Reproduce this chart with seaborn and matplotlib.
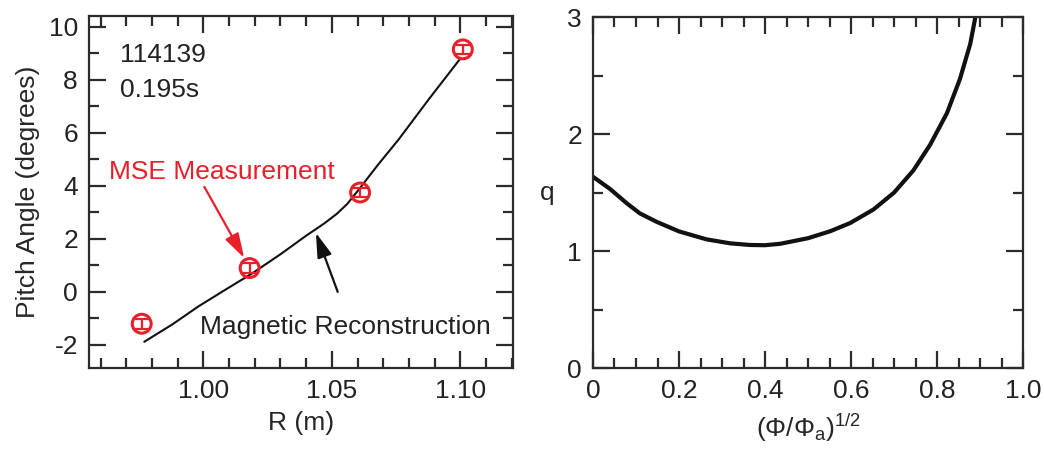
import numpy as np
import pandas as pd
import matplotlib
matplotlib.use("Agg")
import matplotlib.pyplot as plt
from matplotlib.ticker import MultipleLocator
import seaborn as sns

# ---- data ----
mse_R = [0.976, 1.018, 1.061, 1.101]
mse_pitch = [-1.2, 0.9, 3.75, 9.15]
mse_err = [0.18, 0.18, 0.18, 0.18]

recon_R = [0.977, 0.988, 0.998, 1.008, 1.019, 1.030, 1.040, 1.047, 1.052, 1.056,
           1.060, 1.068, 1.076, 1.088, 1.100]
recon_pitch = [-1.88, -1.22, -0.55, 0.05, 0.70, 1.42, 2.12, 2.58, 2.95, 3.32,
               3.80, 4.80, 5.75, 7.30, 8.80]

rho = [0.000, 0.040, 0.078, 0.109, 0.148, 0.200, 0.264, 0.319, 0.365, 0.400, 0.435,
       0.500, 0.552, 0.598, 0.652, 0.700, 0.745, 0.784, 0.823, 0.853, 0.877, 0.889]
q = [1.635, 1.530, 1.410, 1.322, 1.250, 1.168, 1.100, 1.066, 1.052, 1.050, 1.062,
     1.110, 1.170, 1.240, 1.355, 1.500, 1.690, 1.910, 2.180, 2.470, 2.770, 3.000]

left_xticks = [1.00, 1.05, 1.10]
left_xticklabels = ["1.00", "1.05", "1.10"]
left_yticks = [-2, 0, 2, 4, 6, 8, 10]
right_xticks = [0, 0.2, 0.4, 0.6, 0.8, 1.0]
right_xticklabels = ["0", "0.2", "0.4", "0.6", "0.8", "1.0"]
right_yticks = [0, 1, 2, 3]

RED = "#e8202a"
AX = "#2b2b2b"

sns.set_style("ticks")
plt.rcParams["font.family"] = ["Liberation Sans", "DejaVu Sans"]
plt.rcParams["mathtext.fontset"] = "custom"
plt.rcParams["mathtext.rm"] = "Liberation Sans"
plt.rcParams["mathtext.it"] = "Liberation Sans:italic"
plt.rcParams["axes.edgecolor"] = AX
plt.rcParams["text.color"] = "#222222"
plt.rcParams["axes.unicode_minus"] = False

FS = 19

fig = plt.figure(figsize=(10.44, 4.51), dpi=100)
ax1 = fig.add_axes([0.0853, 0.184, 0.406, 0.780])
ax2 = fig.add_axes([0.568, 0.184, 0.412, 0.778])

def style(ax):
    for s in ax.spines.values():
        s.set_linewidth(1.6)
        s.set_color(AX)
    ax.tick_params(which="both", direction="in", top=True, right=True,
                   color=AX, width=1.6, labelsize=FS, labelcolor="#222222")
    ax.tick_params(which="major", length=12, pad=8)
    ax.tick_params(which="minor", length=7.5)

# ---- left panel ----
df_recon = pd.DataFrame({"R": recon_R, "pitch": recon_pitch})
sns.lineplot(data=df_recon, x="R", y="pitch", sort=False, color="#111111", lw=1.5, ax=ax1)
ax1.errorbar(mse_R, mse_pitch, yerr=mse_err, fmt="none", ecolor=RED, elinewidth=1.6,
             capsize=5, capthick=1.6, zorder=3)
df_mse = pd.DataFrame({"R": mse_R, "pitch": mse_pitch})
sns.scatterplot(data=df_mse, x="R", y="pitch", marker="o", s=185, facecolor="none",
                edgecolor=RED, linewidth=2.2, ax=ax1, zorder=4)

ax1.set_xlim(0.9555, 1.1205)
ax1.set_ylim(-2.87, 10.4)
ax1.set_xticks(left_xticks)
ax1.set_xticklabels(left_xticklabels)
ax1.set_yticks(left_yticks)
ax1.xaxis.set_minor_locator(MultipleLocator(0.01))
ax1.yaxis.set_minor_locator(MultipleLocator(1))
style(ax1)
ax1.set_xlabel("R (m)", fontsize=FS, labelpad=6)
ax1.set_ylabel("Pitch Angle (degrees)", fontsize=FS, labelpad=6)

ax1.text(0.9674, 8.94, "114139", fontsize=FS, va="center", ha="left")
ax1.text(0.9674, 7.62, "0.195s", fontsize=FS, va="center", ha="left")
ax1.text(0.9632, 4.53, "MSE Measurement", fontsize=FS, va="center", ha="left", color=RED)
ax1.text(0.9985, -1.32, "Magnetic Reconstruction", fontsize=FS, va="center", ha="left")

ax1.annotate("", xy=(1.0159, 1.28), xytext=(1.0004, 3.96),
             arrowprops=dict(arrowstyle="-|>,head_length=1.5,head_width=0.45",
                             color=RED, lw=1.6, shrinkA=0, shrinkB=0))
ax1.annotate("", xy=(1.0438, 2.23), xytext=(1.0523, 0.0),
             arrowprops=dict(arrowstyle="-|>,head_length=1.5,head_width=0.45",
                             color="#111111", lw=1.6, shrinkA=0, shrinkB=0))

# ---- right panel ----
df_q = pd.DataFrame({"rho": rho, "q": q})
sns.lineplot(data=df_q, x="rho", y="q", sort=False, color="#111111", lw=3.0, ax=ax2)
ax2.set_xlim(0, 1.0)
ax2.set_ylim(0, 3)
ax2.set_xticks(right_xticks)
ax2.set_xticklabels(right_xticklabels)
ax2.set_yticks(right_yticks)
ax2.xaxis.set_minor_locator(MultipleLocator(0.05))
ax2.yaxis.set_minor_locator(MultipleLocator(0.5))
style(ax2)
ax2.set_xlabel(r"($\Phi$/$\Phi_{\mathrm{a}}$)$^{1/2}$", fontsize=FS, labelpad=6)
ax2.set_ylabel("q", fontsize=FS, rotation=0, labelpad=14, va="center")

fig.savefig("out.png", dpi=100)
